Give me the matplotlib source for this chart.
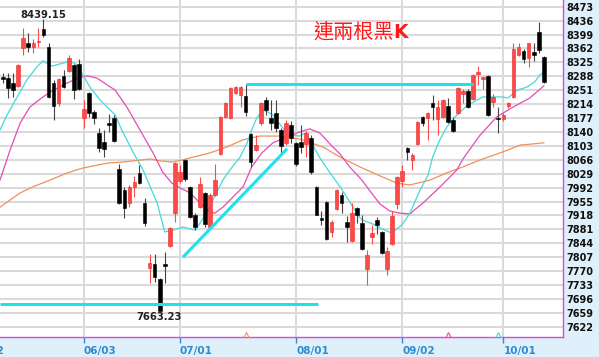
import numpy as np
import matplotlib.pyplot as plt

# daily candles (O, H, L, C)
opens = [8286, 8283, 8270, 8262, 8363, 8376, 8366, 8379, 8414, 8366,
         8270, 8217, 8289, 8302, 8318, 8321, 8177, 8244, 8193, 8137,
         8113, 8164, 8177, 8041, 7986, 7951, 7994, 8031, 7951, 7778,
         7789, 7749, 7789, 7837, 7924, 8010, 8065, 7994, 7919, 7940,
         7978, 7887, 7972, 8081, 8180, 8177, 8244, 8238, 8236, 8134,
         8092, 8164, 8225, 8177, 8190, 8145, 8111, 8158, 8111, 8113,
         8108, 8124, 7994, 7911, 7954, 7874, 7935, 7972, 7900, 7850,
         7938, 7898, 7776, 7861, 7906, 7874, 7776, 7842, 7948, 8010,
         8097, 8065, 8108, 8180, 8177, 8217, 8174, 8180, 8209, 8172,
         8190, 8241, 8249, 8228, 8294, 8281, 8289, 8220, 8177, 8174,
         8209, 8233, 8345, 8355, 8337, 8353, 8406, 8339]
highs = [8297, 8297, 8297, 8321, 8416, 8403, 8387, 8416, 8439.15, 8376,
         8278, 8283, 8305, 8345, 8321, 8334, 8225, 8246, 8198, 8150,
         8145, 8188, 8185, 8055, 7994, 7999, 8023, 8052, 7964, 7815,
         7815, 7752, 7821, 7887, 8060, 8052, 8068, 7996, 7924, 8020,
         7980, 7978, 8055, 8182, 8220, 8260, 8262, 8262, 8267, 8137,
         8132, 8220, 8233, 8225, 8225, 8150, 8172, 8169, 8113, 8158,
         8142, 8132, 7996, 7930, 7956, 7906, 7988, 7980, 7916, 7951,
         7940, 7919, 7826, 7893, 7914, 7877, 7834, 7930, 8023, 8052,
         8100, 8084, 8169, 8182, 8193, 8238, 8225, 8228, 8230, 8180,
         8260, 8254, 8254, 8294, 8315, 8286, 8291, 8241, 8206, 8190,
         8220, 8376, 8376, 8361, 8376, 8376, 8432, 8342]
lows = [8270, 8230, 8233, 8259, 8345, 8353, 8350, 8366, 8392, 8230,
        8172, 8209, 8257, 8299, 8228, 8251, 8150, 8180, 8161, 8087,
        8073, 8140, 8113, 7948, 7911, 7940, 7967, 8002, 7890, 7738,
        7741, 7663.23, 7738, 7834, 7900, 8004, 8010, 7911, 7879, 7938,
        7887, 7885, 7970, 8079, 8177, 8174, 8241, 8206, 8182, 8047,
        8089, 8158, 8185, 8145, 8140, 8081, 8105, 8111, 8049, 8084,
        8073, 8028, 7919, 7893, 7853, 7861, 7932, 7924, 7847, 7847,
        7898, 7826, 7733, 7842, 7869, 7815, 7760, 7839, 7935, 7994,
        8065, 8039, 8105, 8156, 8119, 8172, 8132, 8177, 8164, 8140,
        8188, 8217, 8204, 8225, 8265, 8254, 8182, 8206, 8137, 8169,
        8204, 8230, 8342, 8323, 8313, 8329, 8350, 8270]
closes = [8281, 8257, 8251, 8318, 8390, 8366, 8376, 8382, 8398, 8233,
          8209, 8281, 8259, 8337, 8251, 8254, 8201, 8190, 8177, 8097,
          8095, 8158, 8116, 7951, 7938, 7994, 8007, 8004, 7898, 7792,
          7754, 7664, 7784, 7885, 8057, 8034, 8015, 7914, 7887, 8002,
          7895, 7972, 8012, 8180, 8217, 8257, 8260, 8260, 8193, 8060,
          8105, 8217, 8198, 8164, 8150, 8103, 8164, 8124, 8055, 8100,
          8137, 8033, 7919, 7906, 7855, 7900, 7986, 7951, 7887, 7924,
          7919, 7829, 7813, 7871, 7893, 7818, 7823, 7917, 8020, 8036,
          8087, 8079, 8166, 8164, 8190, 8206, 8206, 8225, 8166, 8142,
          8257, 8249, 8206, 8291, 8299, 8286, 8185, 8233, 8174, 8185,
          8217, 8361, 8366, 8334, 8376, 8345, 8358, 8273]

# moving averages, sampled along the drawn curves (candle index, value)
ma10_x = [-0.6, 0.8, 2.8, 4.7, 6.7, 7.9, 9.7, 12.7, 14.2, 15.2, 17.2, 19.2,
          22.2, 23.5, 25.7, 27.7, 30.5, 32.0, 33.6, 35.6, 38.0, 39.0, 40.3,
          41.5, 43.5, 44.9, 46.9, 48.3, 49.2, 50.2, 51.4, 52.4, 53.4, 55.2,
          56.8, 58.7, 59.9, 60.7, 62.7, 64.7, 66.7, 68.6, 70.2, 71.0, 73.2,
          74.6, 76.9, 79.0, 80.5, 82.5, 84.1, 85.0, 86.4, 87.8, 89.8, 91.8,
          93.8, 94.9, 96.9, 98.9, 99.9, 101.7, 103.6, 105.2, 106.2, 107.0]
ma10_y = [8145, 8185, 8233, 8278, 8313, 8329, 8315, 8326, 8323, 8305, 8259, 8225,
          8185, 8145, 8087, 8039, 7951, 7874, 7879, 7887, 7879, 7898, 7924,
          7959, 8012, 8039, 8073, 8111, 8145, 8177, 8198, 8193, 8185, 8153,
          8132, 8129, 8137, 8118, 8071, 8031, 7994, 7954, 7919, 7906, 7895,
          7885, 7871, 7894, 7924, 7985, 8025, 8073, 8118, 8153, 8185, 8210,
          8225, 8233, 8233, 8233, 8230, 8251, 8259, 8273, 8291, 8299]

ma20_x = [-0.6, 1.4, 3.4, 5.3, 7.9, 9.9, 12.7, 15.2, 16.8, 18.6, 20.6, 22.2,
          24.5, 27.1, 29.7, 31.6, 33.4, 35.0, 37.0, 39.0, 40.9, 41.9, 43.5,
          45.5, 47.5, 49.2, 51.2, 53.4, 56.2, 58.7, 60.7, 62.7, 64.7, 66.7,
          68.6, 71.0, 72.6, 74.6, 76.5, 78.5, 80.5, 82.1, 83.1, 86.4, 89.8,
          91.0, 94.3, 97.7, 100.9, 104.2, 106.8, 107.0]
ma20_y = [8012, 8092, 8164, 8206, 8233, 8251, 8270, 8286, 8289, 8283, 8265, 8251,
          8206, 8145, 8084, 8033, 8004, 7991, 7978, 7951, 7927, 7924, 7940,
          7967, 7994, 8047, 8084, 8111, 8127, 8140, 8148, 8137, 8108, 8081,
          8047, 8012, 7983, 7948, 7930, 7924, 7922, 7940, 7951, 7993, 8039,
          8068, 8130, 8180, 8206, 8230, 8260, 8262]

ma60_x = [-0.6, 3.4, 5.9, 9.3, 12.7, 15.8, 20.6, 23.7, 27.1, 29.1, 31.1, 33.4,
          35.4, 37.0, 40.9, 44.3, 47.5, 50.8, 54.8, 58.7, 63.3, 66.7, 70.6,
          74.6, 77.9, 80.5, 84.5, 87.8, 91.0, 94.3, 98.9, 102.3, 104.8, 107.0]
ma60_y = [7940, 7978, 7994, 8012, 8031, 8044, 8057, 8060, 8065, 8068, 8063, 8060,
          8065, 8071, 8084, 8100, 8119, 8129, 8129, 8121, 8100, 8073, 8047,
          8023, 8004, 7999, 8012, 8031, 8047, 8065, 8087, 8105, 8108, 8111]

price_ticks = [8473, 8436, 8399, 8362, 8325, 8288, 8251, 8214, 8177, 8140,
               8103, 8066, 8029, 7992, 7955, 7918, 7881, 7844, 7807, 7770,
               7733, 7696, 7659, 7622]
date_pos = [16, 35, 58, 79, 99]
date_labels = ['06/03', '07/01', '08/01', '09/02', '10/01']

# drawn lines: neckline, support, rising trend line
neck_x, neck_y = [48, 93], [8267, 8267]
supp_x, supp_y = [-0.6, 62.3], [7682, 7682]
trend_x, trend_y = [35.6, 56.2], [7807, 8095]

o = np.array(opens, float)
h = np.array(highs, float)
l = np.array(lows, float)
c = np.array(closes, float)
idx = np.arange(len(o))
up = c >= o

RED = '#ff4848'
BLUE = '#2e8bd0'
MAG = '#e046d8'

fig = plt.figure(figsize=(5.99, 3.57), dpi=100)
fig.patch.set_facecolor('#dff0fa')
ax = fig.add_axes([0, 20/357, 563/599, 337/357])
ax.set_facecolor('white')

ax.set_xlim(-0.6, 110.8)
ax.set_ylim(7594.7, 8490.8)

ax.set_yticks(price_ticks)
ax.set_xticks(date_pos)
ax.set_xticklabels(date_labels)
ax.grid(True, color='#dadada', lw=1.5, zorder=0)
ax.set_axisbelow(True)

ax.yaxis.tick_right()
ax.tick_params(axis='y', length=0, pad=2.5, labelsize=7, labelcolor='#111111')
for t in ax.get_yticklabels():
    t.set_fontweight('bold')
ax.tick_params(axis='x', length=4, width=1, color=BLUE, pad=2.5,
               labelsize=7.5, labelcolor=BLUE)
for t in ax.get_xticklabels():
    t.set_fontweight('bold')
    t.set_ha('left')
    t.set_x(0)
ax.text(-6.3, -0.042, '05/02', transform=ax.get_xaxis_transform(),
        ha='left', va='center', fontsize=7.5, fontweight='bold', color=BLUE,
        clip_on=False)

for s in ['left', 'top']:
    ax.spines[s].set_visible(False)
for s in ['bottom', 'right']:
    ax.spines[s].set_color(MAG)
    ax.spines[s].set_linewidth(1)

# moving averages
ax.plot(ma60_x, ma60_y, color='#f0905a', lw=0.9, zorder=2)
ax.plot(ma20_x, ma20_y, color='#e44cb4', lw=0.9, zorder=2)
ax.plot(ma10_x, ma10_y, color='#45d8dc', lw=0.9, zorder=2)

# candles
body_lo = np.minimum(o, c)
body_h = np.maximum(np.abs(c - o), 2.5)
ax.vlines(idx[up], l[up], h[up], color=RED, lw=0.8, zorder=3)
ax.vlines(idx[~up], l[~up], h[~up], color='#444444', lw=0.8, zorder=3)
ax.bar(idx[up], body_h[up], bottom=body_lo[up], width=0.72, color=RED,
       edgecolor='#e82828', linewidth=0.4, zorder=4)
ax.bar(idx[~up], body_h[~up], bottom=body_lo[~up], width=0.72, color='black',
       edgecolor='black', linewidth=0.4, zorder=4)

# hand-drawn lines
ax.plot(neck_x, neck_y, color='#1fe2ef', lw=2.2, solid_capstyle='butt', zorder=5)
ax.plot(supp_x, supp_y, color='#1fe2ef', lw=2.2, solid_capstyle='butt', zorder=5)
ax.plot(trend_x, trend_y, color='#1fe2ef', lw=2.2, solid_capstyle='butt', zorder=5)

# small signal marks on the bottom edge
ax.plot([48], [7600], marker='^', ms=4, mfc='none', mec='#f0905a', mew=0.8, zorder=5)
ax.plot([88], [7600], marker='^', ms=4, mfc='none', mec='#e44cb4', mew=0.8, zorder=5)
ax.plot([98], [7600], marker='^', ms=4, mfc='none', mec='#45d8dc', mew=0.8, zorder=5)

# labels for the extremes
ax.text(8, 8451, '8439.15', ha='center', va='center', fontsize=7.2,
        fontweight='bold', color='#222222', zorder=6)
ax.text(30.9, 7648, '7663.23', ha='center', va='center', fontsize=7.2,
        fontweight='bold', color='#222222', zorder=6)

# title
ax.text(0.556, 0.905, '連兩根黑', transform=ax.transAxes, ha='left', va='center',
        fontsize=14.5, color='#ff1a1a', family=['Noto Sans CJK TC', 'DejaVu Sans'],
        zorder=6)
ax.text(0.698, 0.905, 'K', transform=ax.transAxes, ha='left', va='center',
        fontsize=13.5, fontweight='bold', color='#ff1a1a', zorder=6)

fig.savefig('out.png', dpi=100, facecolor=fig.get_facecolor())
